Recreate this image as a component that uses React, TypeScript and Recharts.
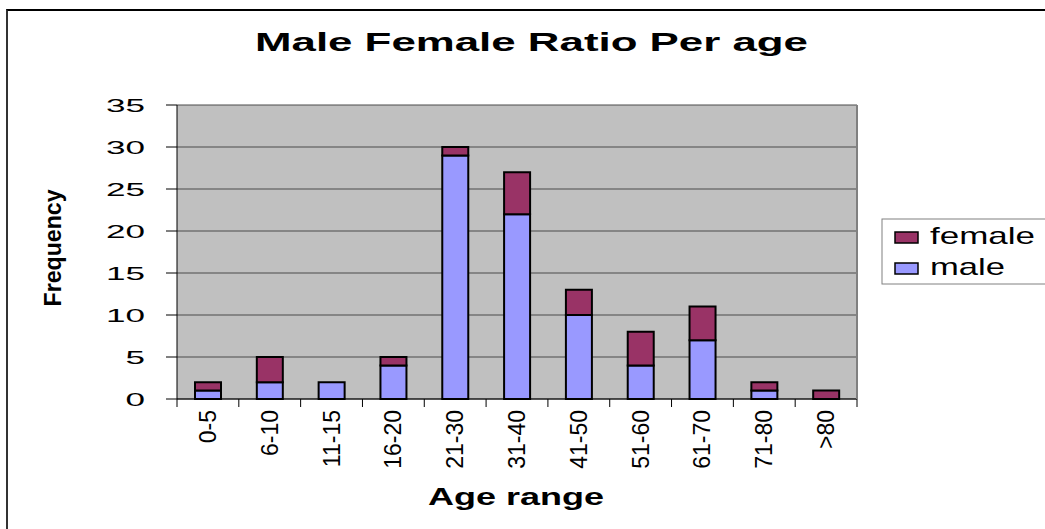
import { BarChart, Bar, XAxis, YAxis, CartesianGrid } from "recharts";

// chart data
const ageRanges = ["0-5", "6-10", "11-15", "16-20", "21-30", "31-40", "41-50", "51-60", "61-70", "71-80", ">80"];
const maleCounts = [1, 2, 2, 4, 29, 22, 10, 4, 7, 1, 0];
const femaleCounts = [1, 3, 0, 1, 1, 5, 3, 4, 4, 1, 1];
const yTicks = [0, 5, 10, 15, 20, 25, 30, 35];

const MALE = "#9999FF";
const FEMALE = "#993366";
const FONT = "'Liberation Sans', Arial, sans-serif";

const W = 1045;
const H = 529;
const PLOT_LEFT = 177;
const PLOT_RIGHT = 857;
const STEP = (PLOT_RIGHT - PLOT_LEFT) / ageRanges.length;

const data = ageRanges.map((range, i) => ({
  range,
  male: maleCounts[i],
  female: femaleCounts[i],
}));

// x tick: rotated label + tick marks between categories (excel style)
const XTick = (props: any) => {
  const { x, y, payload, index } = props;
  const last = index === ageRanges.length - 1;
  return (
    <g>
      <line x1={x - STEP / 2} y1={y - 8} x2={x - STEP / 2} y2={y} stroke="#000" />
      {last && <line x1={x + STEP / 2} y1={y - 8} x2={x + STEP / 2} y2={y} stroke="#000" />}
      <text
        transform={`translate(${x + 8},${y + 3}) rotate(-90)`}
        textAnchor="end"
        fontFamily={FONT}
        fontSize={23}
        fill="#000"
      >
        {payload.value}
      </text>
    </g>
  );
};

// y tick: labels in the source are stretched horizontally
const YTick = (props: any) => {
  const { x, y, payload } = props;
  const s = String(payload.value);
  return (
    <text
      x={x - 19}
      y={y + 6.5}
      textAnchor="end"
      fontFamily={FONT}
      fontSize={18}
      fill="#000"
      textLength={s.length * 19.5}
      lengthAdjust="spacingAndGlyphs"
    >
      {s}
    </text>
  );
};

const App = () => {
  return (
    <div style={{ position: "absolute", left: 0, top: 0, width: W, height: H, overflow: "hidden", background: "#fff" }}>
      <div
        style={{
          position: "absolute",
          left: 6,
          top: 9,
          width: 1200,
          height: 700,
          borderTop: "2px solid #000",
          borderLeft: "2px solid #333",
        }}
      />
      <div style={{ position: "absolute", left: 0, top: 0 }}>
        <BarChart
          width={W}
          height={H}
          data={data}
          barSize={26}
          margin={{ top: 105, right: 187, bottom: 70, left: 117 }}
        >
          <CartesianGrid vertical={false} fill="#C0C0C0" stroke="#4a4a4a" strokeWidth={1} />
          <XAxis
            dataKey="range"
            height={60}
            axisLine={{ stroke: "#000" }}
            tickLine={false}
            tick={<XTick />}
            interval={0}
          />
          <YAxis
            width={60}
            domain={[0, 35]}
            ticks={yTicks}
            interval={0}
            axisLine={{ stroke: "#000" }}
            tickLine={{ stroke: "#000" }}
            tickSize={11}
            tick={<YTick />}
          />
          <YAxis
            yAxisId="r"
            orientation="right"
            width={1}
            domain={[0, 35]}
            tick={false}
            tickLine={false}
            axisLine={{ stroke: "#808080", strokeWidth: 2 }}
          />
          <Bar dataKey="male" stackId="a" fill={MALE} stroke="#000" strokeWidth={2} isAnimationActive={false} />
          <Bar dataKey="female" stackId="a" fill={FEMALE} stroke="#000" strokeWidth={2} isAnimationActive={false} />
        </BarChart>
      </div>
      {/* titles and legend */}
      <svg width={W} height={H} style={{ position: "absolute", left: 0, top: 0, pointerEvents: "none" }}>
        <text
          x={255}
          y={51}
          fontFamily={FONT}
          fontWeight="bold"
          fontSize={26}
          textLength={553}
          lengthAdjust="spacingAndGlyphs"
        >
          Male Female Ratio Per age
        </text>
        <text
          x={428}
          y={505}
          fontFamily={FONT}
          fontWeight="bold"
          fontSize={24}
          textLength={176}
          lengthAdjust="spacingAndGlyphs"
        >
          Age range
        </text>
        <text
          transform="translate(61,248) rotate(-90)"
          textAnchor="middle"
          fontFamily={FONT}
          fontWeight="bold"
          fontSize={24}
          textLength={117}
          lengthAdjust="spacingAndGlyphs"
        >
          Frequency
        </text>
        <rect x={882} y={219} width={200} height={65} fill="#fff" stroke="#808080" strokeWidth={1} />
        <rect x={895} y={232} width={23} height={11} fill={FEMALE} stroke="#000" strokeWidth={1.5} />
        <text x={930} y={244} fontFamily={FONT} fontSize={24} textLength={105} lengthAdjust="spacingAndGlyphs">
          female
        </text>
        <rect x={895} y={263} width={23} height={11} fill={MALE} stroke="#000" strokeWidth={1.5} />
        <text x={930} y={275} fontFamily={FONT} fontSize={24} textLength={75} lengthAdjust="spacingAndGlyphs">
          male
        </text>
      </svg>
    </div>
  );
};

export default App;
